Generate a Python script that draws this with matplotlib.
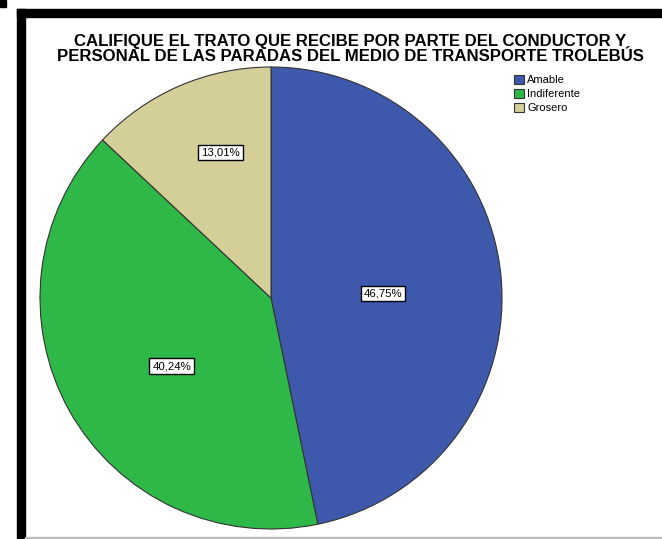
import matplotlib.pyplot as plt
from matplotlib.patches import Rectangle

categories = ["Amable", "Indiferente", "Grosero"]
percentages = [46.75, 40.24, 13.01]
colors = ["#3E58AC", "#2EB848", "#D4CE98"]
title = ("CALIFIQUE EL TRATO QUE RECIBE POR PARTE DEL CONDUCTOR Y\n"
         "PERSONAL DE LAS PARADAS DEL MEDIO DE TRANSPORTE TROLEBÚS")

W, H = 662, 539
plt.rcParams["font.family"] = ["Liberation Sans", "DejaVu Sans"]
fig = plt.figure(figsize=(W / 100, H / 100), dpi=100)
fig.patch.set_facecolor("white")


def px_rect(x, y, w, h, **kw):
    # rectangle given in pixel coords from the top-left corner
    fig.patches.append(Rectangle((x / W, 1 - (y + h) / H), w / W, h / H,
                                 transform=fig.transFigure, figure=fig, **kw))


# window frame
px_rect(0, 0, 6, 7, color="black")
px_rect(17, 9, W - 17, 8, color="black")
px_rect(17, 9, 8, H - 9, color="black")
px_rect(25, 537, W - 25, 1.5, color="#BBBBBB")

# pie: center (271, 298), radius 231 px
cx, cy, r = 271, 298, 231
ax = fig.add_axes([(cx - r) / W, 1 - (cy + r) / H, 2 * r / W, 2 * r / H])
wedges, _ = ax.pie(percentages, colors=colors, startangle=90, counterclock=False,
                   wedgeprops=dict(edgecolor="#333333", linewidth=0.8))
ax.set_xlim(-1, 1)
ax.set_ylim(-1, 1)
ax.set_aspect("equal")
ax.axis("off")

# label anchor inside each slice (data units, radius = 1)
label_pos = [(0.485, 0.02), (-0.43, -0.295), (-0.218, 0.63)]
for pct, (lx, ly) in zip(percentages, label_pos):
    ax.text(lx, ly, f"{pct:.2f}%".replace(".", ","),
            ha="center", va="center", fontsize=8.2,
            bbox=dict(boxstyle="square,pad=0.25", facecolor="white",
                      edgecolor="black", linewidth=1))

fig.text(350 / W, 1 - 49 / H, title, ha="center", va="center",
         fontsize=12.1, fontweight="bold", linespacing=1.0)

leg = fig.legend(wedges, categories, loc="upper left",
                 bbox_to_anchor=(506 / W, 1 - 67 / H), frameon=False,
                 fontsize=8, handlelength=0.9, handleheight=0.9,
                 handletextpad=0.3, labelspacing=0.33, borderpad=0.2)
for h in leg.legend_handles:
    h.set_edgecolor("#333333")
    h.set_linewidth(0.8)

fig.savefig("out.png", dpi=100)
